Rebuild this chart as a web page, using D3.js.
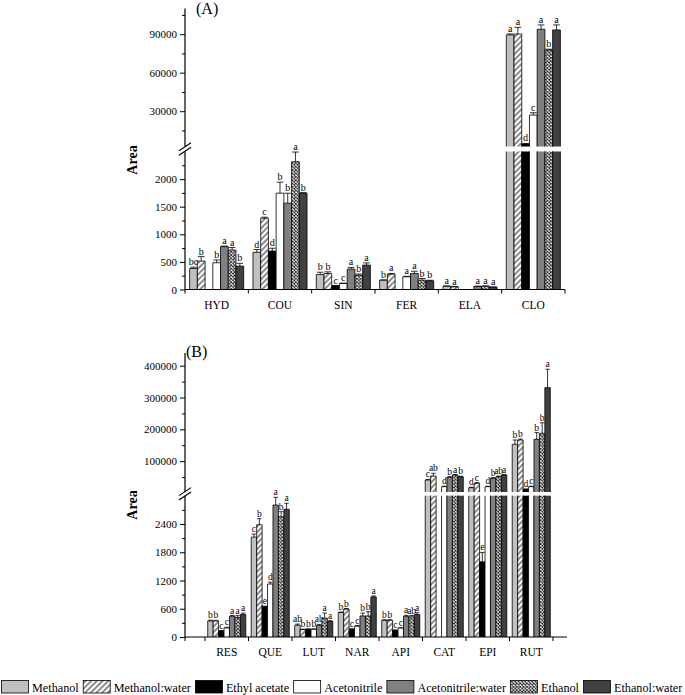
<!DOCTYPE html>
<html><head><meta charset="utf-8">
<script src="https://cdn.jsdelivr.net/npm/d3@7"></script>
<style>body{margin:0;background:#fff}svg{display:block;opacity:0.999}text{font-family:"Liberation Serif","Times New Roman",serif}</style>
</head><body><svg id="c" width="685" height="695"></svg>
<script>
const series = ["Methanol","Methanol:water","Ethyl acetate","Acetonitrile","Acetonitrile:water","Ethanol","Ethanol:water"];

// Panel A
const catsA = ["HYD","COU","SIN","FER","ELA","CLO"];
const valuesA = [
  [380, 515, 0, 485, 776, 715, 424],
  [673, 1290, 697, 1745, 1564, 2315, 1745],
  [273, 290, 67, 110, 370, 260, 442],
  [169, 278, 0, 229, 291, 169, 157],
  [60, 48, 0, 0, 55, 60, 42],
  [89400, 90100, 4450, 27000, 93800, 77700, 93300]
];
const errsA = [
  [25, 80, 0, 50, 10, 45, 50],
  [50, 20, 50, 200, 180, 175, 10],
  [40, 30, 5, 5, 30, 20, 40],
  [5, 12, 0, 10, 40, 30, 10],
  [5, 5, 0, 0, 5, 5, 5],
  [800, 5200, 400, 1800, 3400, 600, 3900]
];
const lettersA = [
  ["bc","b","","b","a","a","b"],
  ["d","c","d","b","b","a","b"],
  ["b","b","c","c","a","b","a"],
  ["b","a","","a","a","b","b"],
  ["a","a","","","a","a","a"],
  ["a","a","d","c","a","b","a"]
];
const ticksLowA = [0,500,1000,1500,2000];
const minorLowA = [250,750,1250,1750,2250];
const ticksUpA = [30000,60000,90000];
const minorUpA = [15000,45000,75000,105000];

// Panel B
const catsB = ["RES","QUE","LUT","NAR","API","CAT","EPI","RUT"];
const valuesB = [
  [342, 342, 128, 192, 441, 413, 477],
  [2121, 2384, 655, 1124, 2802, 2553, 2711],
  [249, 157, 164, 164, 249, 399, 334],
  [520, 590, 164, 228, 447, 447, 851],
  [355, 355, 143, 192, 440, 426, 476],
  [40700, 53300, 0, 19700, 49200, 56400, 51100],
  [16500, 30400, 1596, 19700, 46100, 51100, 56400],
  [153000, 166500, 11500, 19700, 168700, 187600, 331000]
];
const errsB = [
  [15, 10, 10, 15, 15, 40, 30],
  [64, 128, 0, 40, 164, 107, 128],
  [25, 10, 10, 10, 20, 110, 10],
  [10, 15, 10, 15, 60, 90, 20],
  [10, 10, 5, 5, 20, 30, 40],
  [2000, 8500, 0, 1500, 2000, 1500, 1500],
  [1500, 2000, 200, 1500, 2000, 2000, 1500],
  [13500, 3000, 1000, 1500, 21000, 33000, 58000]
];
const lettersB = [
  ["b","b","c","c","a","a","a"],
  ["c","b","e","d","a","b","a"],
  ["ab","b","b","b","ab","a","a"],
  ["b","b","c","c","b","b","a"],
  ["b","b","c","c","a","ab","a"],
  ["c","ab","","d","b","a","b"],
  ["d","c","e","d","b","ab","a"],
  ["b","b","d","c","b","b","a"]
];
const ticksLowB = [0,600,1200,1800,2400];
const minorLowB = [300,900,1500,2100,2700];
const ticksUpB = [100000,200000,300000,400000];
const minorUpB = [50000,150000,250000,350000];

const svg = d3.select("#c");
const defs = svg.append("defs");
const hatch = defs.append("pattern").attr("id","hatch").attr("patternUnits","userSpaceOnUse")
  .attr("width",4).attr("height",4).attr("patternTransform","rotate(45)");
hatch.append("rect").attr("width",4).attr("height",4).attr("fill","#fff");
hatch.append("line").attr("x1",2).attr("y1",-1).attr("x2",2).attr("y2",5).attr("stroke","#000").attr("stroke-width",0.9);
const cross = defs.append("pattern").attr("id","cross").attr("patternUnits","userSpaceOnUse")
  .attr("width",3.4).attr("height",3.4);
cross.append("rect").attr("width",3.4).attr("height",3.4).attr("fill","#fff");
cross.append("path").attr("d","M0,0L3.4,3.4M3.4,0L0,3.4").attr("stroke","#222").attr("stroke-width",0.9);

const fills = ["#c0c0c0","url(#hatch)","#000000","#ffffff","#808080","url(#cross)","#404040"];
const serif = '"Liberation Serif","Times New Roman",serif';

function drawPanel(P){
  const g = svg.append("g");
  const x = d3.scaleBand().domain(P.cats).range(P.band);
  const xs = d3.scaleBand().domain(d3.range(series.length)).range([0, x.bandwidth()]).paddingOuter(P.pad);
  const yL = d3.scaleLinear().domain(P.lowDom).range(P.lowRange);
  const yU = d3.scaleLinear().domain(P.upDom).range(P.upRange);
  const lowTop = P.lowDom[1];
  const yv = v => v > lowTop ? yU(v) : yL(v);
  const bw = xs.bandwidth();

  P.cats.forEach((c, ci) => {
    P.values[ci].forEach((v, si) => {
      if (!v) return;
      const bx = x(c) + xs(si);
      const segs = v > lowTop
        ? [[yL(0), yL(lowTop), false], [yU(P.upDom[0]), yU(v), true]]
        : [[yL(0), yL(v), true]];
      segs.forEach(([y0, y1, top]) => {
        g.append("rect").attr("x",bx).attr("y",y1).attr("width",bw).attr("height",y0-y1).attr("fill",fills[si]);
        g.append("path").attr("d", top ? `M${bx},${y0}V${y1}H${bx+bw}V${y0}` : `M${bx},${y0}V${y1}M${bx+bw},${y1}V${y0}`)
          .attr("fill","none").attr("stroke","#000").attr("stroke-width",0.8);
      });
      const e = P.errs[ci][si];
      const yt = yv(v), ye = yv(v + e);
      if (e) {
        g.append("path").attr("d",`M${bx+bw/2},${yt}V${ye}M${bx+0.5},${ye}H${bx+bw-0.5}`)
          .attr("fill","none").attr("stroke","#000").attr("stroke-width",0.8);
      }
      const lab = P.letters[ci][si];
      if (lab) g.append("text").attr("x",bx+bw/2).attr("y",ye-2).attr("text-anchor","middle")
        .attr("font-size",P.letterSize).attr("fill","#000").text(lab);
    });
  });

  // y axes
  const ax = P.ax;
  const mk = (scale, vals, size, labels) => {
    const a = d3.axisLeft(scale).tickValues(vals).tickSize(size).tickSizeOuter(0).tickPadding(3);
    a.tickFormat(labels ? d3.format("d") : () => "");
    const gg = g.append("g").attr("transform",`translate(${ax},0)`).call(a);
    gg.select(".domain").remove();
    gg.attr("font-family", serif).attr("font-size", 11);
    gg.selectAll("line").attr("stroke-width",1);
  };
  mk(yL, P.majLow, 5, true);
  mk(yL, P.minLow, 3, false);
  mk(yU, P.majUp, 5, true);
  mk(yU, P.minUp, 3, false);
  g.append("path").attr("d",`M${ax},${yL(0)}V${yL(lowTop)}M${ax},${yU(P.upDom[0])}V${yU(P.upDom[1])}`)
    .attr("stroke","#000").attr("stroke-width",1.2).attr("fill","none");
  const gy = (yL(lowTop) + yU(P.upDom[0])) / 2;
  [-2.2, 2.2].forEach(o => {
    g.append("line").attr("x1",ax-6).attr("y1",gy+o+4).attr("x2",ax+6).attr("y2",gy+o-4)
      .attr("stroke","#000").attr("stroke-width",1.1);
  });

  // x axis
  const y0 = yL(0);
  g.append("line").attr("x1",ax).attr("x2",P.xEnd).attr("y1",y0).attr("y2",y0).attr("stroke","#000").attr("stroke-width",1.2);
  const bounds = Array.from(new Set([ax, ...P.cats.map(c => x(c)), x.range()[1]]));
  bounds.forEach(b => g.append("line").attr("x1",b).attr("x2",b).attr("y1",y0).attr("y2",y0+4).attr("stroke","#000").attr("stroke-width",1));
  P.cats.forEach(c => g.append("text").attr("x",x(c)+x.bandwidth()/2).attr("y",y0+19)
    .attr("text-anchor","middle").attr("font-size",11.5).text(c));

  // labels
  g.append("text").attr("transform",`translate(${P.labX},${P.labY}) rotate(-90)`).attr("text-anchor","middle")
    .attr("font-size",14).attr("font-weight","bold").text("Area");
  g.append("text").attr("x",P.titleX).attr("y",P.titleY).attr("font-size",16).text(P.title);
}

drawPanel({cats:catsA, values:valuesA, errs:errsA, letters:lettersA, band:[185,565], pad:0.6, ax:185, xEnd:565,
  lowDom:[0,2500], lowRange:[289.5,151.5], upDom:[2500,110000], upRange:[146.5,8.5],
  majLow:ticksLowA, minLow:minorLowA, majUp:ticksUpA, minUp:minorUpA, letterSize:10,
  labX:137, labY:160, title:"(A)", titleX:196, titleY:14});

drawPanel({cats:catsB, values:valuesB, errs:errsB, letters:lettersB, band:[205,553], pad:0.5, ax:185, xEnd:567,
  lowDom:[0,3000], lowRange:[637,495.7], upDom:[3000,440000], upRange:[492,353],
  majLow:ticksLowB, minLow:minorLowB, majUp:ticksUpB, minUp:minorUpB, letterSize:9.5,
  labX:137, labY:505, title:"(B)", titleX:186, titleY:357});

// legend
const leg = svg.append("g");
let lx = 1;
series.forEach((s, i) => {
  leg.append("rect").attr("x",lx+0.5).attr("y",680.5).attr("width",27).attr("height",12.5)
    .attr("fill",fills[i]).attr("stroke","#000").attr("stroke-width",0.8);
  const t = leg.append("text").attr("x",lx+31).attr("y",691.5).attr("font-size",12.2).text(s);
  lx += 31 + t.node().getComputedTextLength() + 4;
});
</script></body></html>
